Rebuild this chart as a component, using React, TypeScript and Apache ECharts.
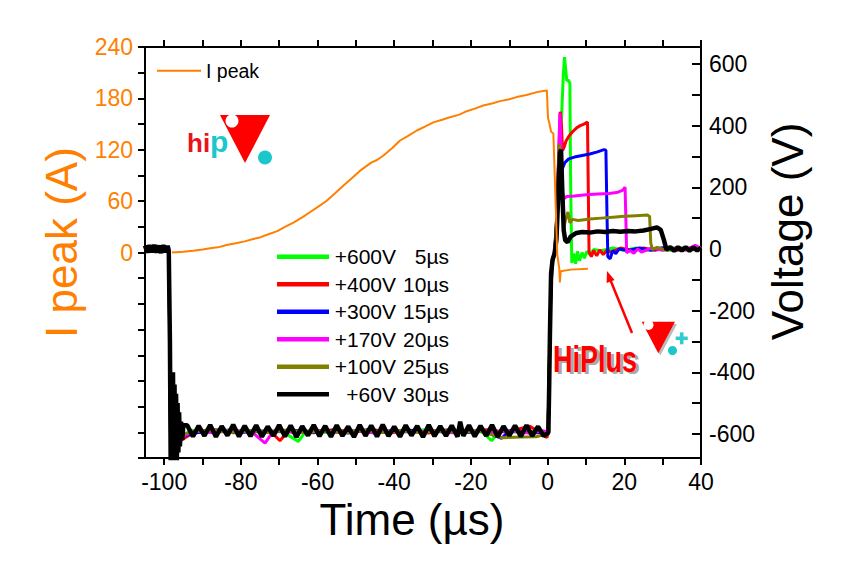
import React, { useEffect, useRef } from "react";
import * as echarts from "echarts";

const FONT = "'Liberation Sans', Arial, sans-serif";
const ORANGE = "#FF8000";

// Axis ticks / labels
const xTicks = [-100, -90, -80, -70, -60, -50, -40, -30, -20, -10, 0, 10, 20, 30, 40];
const xLabels = [-100, -80, -60, -40, -20, 0, 20, 40];
const iTicks = [-240, -210, -180, -150, -120, -90, -60, -30, 0, 30, 60, 90, 120, 150, 180, 210, 240];
const iLabels = [0, 60, 120, 180, 240];
const vTicks = [-600, -500, -400, -300, -200, -100, 0, 100, 200, 300, 400, 500, 600];
const vLabels = [-600, -400, -200, 0, 200, 400, 600];

const names = ["+600V 5µs", "+400V 10µs", "+300V 15µs", "+170V 20µs", "+100V 25µs", "+60V 30µs"];
const colors = ["#00FF00", "#FF0000", "#0000FF", "#FF00FF", "#808000", "#000000"];

// I peak (A) vs time (µs)
const iPeak = [
  [-98, 0], [-95, 1], [-92.4, 2], [-90, 3.5], [-88, 5], [-86, 6], [-83.7, 8.7], [-81, 11], [-79, 13], [-77, 15.5],
  [-75, 17.6], [-73, 21], [-70.5, 25], [-68.5, 30], [-66.3, 35], [-64, 41], [-62, 47], [-60, 53], [-57.6, 60.5],
  [-55.5, 69], [-53.3, 78], [-51, 87], [-48.9, 95.6], [-46, 105], [-44.5, 108], [-42.9, 113], [-40.5, 122],
  [-38.5, 130.8], [-36.5, 136], [-34.1, 142.5], [-32, 147], [-29.8, 152], [-27.5, 155], [-25.5, 158], [-23, 161],
  [-21.1, 165], [-19, 168], [-16.8, 171.7], [-14.5, 174], [-12.4, 176.8], [-10, 179], [-8.1, 181.5], [-5.5, 184],
  [-2.8, 187.3], [-1.2, 188.5], [-0.2, 189.3], [0.1, 157], [0.5, 150], [0.9, 141], [1.5, 139], [2.0, 70],
  [2.5, -1.5], [3.05, -19], [3.2, -35], [3.4, -22], [6, -20], [10.5, -19]
];

// Voltage (V) vs time (µs)
const v600 = [
  [-105, 3], [-103.6, -5], [-102.2, 6], [-100.8, -4], [-99.6, 5], [-98.8, -3],
  [-98.5, -380], [-98.3, -690], [-97.9, -560], [-97.4, -650], [-96.9, -575], [-96.3, -615],
  [-93, -588], [-88, -595], [-83, -586], [-78, -596], [-73, -590], [-69, -594], [-65, -624], [-63, -590],
  [-57, -596], [-52, -586], [-47, -595], [-42, -589], [-37, -594], [-32, -586], [-27, -595], [-22, -590],
  [-17, -594], [-14.6, -622], [-12.5, -590], [-6, -596], [-2, -588], [-0.3, -594],
  [0.1, -590], [0.4, -420], [0.8, -160], [1.2, -45], [1.8, -15], [2.4, 90], [2.9, 290], [3.3, 335],
  [3.7, 450], [4.1, 565], [4.4, 622], [4.7, 585], [5.0, 545], [5.4, 548], [5.8, 538], [6.0, 220], [6.3, -45],
  [6.8, -15], [7.3, -48], [7.8, -8], [8.3, -38], [9.0, -12], [9.6, -30], [10.2, -8], [11, -18], [12, -2],
  [14, -6], [17, 3], [20, -5], [23, 3], [26, -4], [29, 3], [32, -4], [35, 4], [38, -3], [40, 2]
];
const v400 = [
  [-105, -4], [-103.8, 5], [-102.4, -6], [-101, 4], [-99.8, -5], [-98.8, 3],
  [-98.5, -360], [-98.3, -680], [-97.8, -490], [-97.3, -660], [-96.8, -560], [-96.2, -625],
  [-92, -593], [-87, -586], [-82, -596], [-77, -590], [-72, -595], [-69.8, -622], [-67.5, -588], [-61, -596],
  [-56, -586], [-51, -594], [-46, -585], [-41, -596], [-36, -590], [-31, -597], [-26, -586], [-21, -595],
  [-16, -586], [-11, -594], [-4.6, -575], [-1.5, -600], [-0.2, -612],
  [0.1, -600], [0.4, -400], [0.8, -150], [1.2, -40], [1.8, -10], [2.4, 100], [2.9, 300],
  [3.3, 445], [3.6, 400], [3.9, 320], [4.3, 330], [4.8, 350], [5.5, 365], [6.5, 380], [7.5, 392], [8.5, 400],
  [9.5, 405], [10.4, 412], [10.6, 200], [10.8, -10], [11.4, -25], [12.0, -5], [12.8, -22], [13.6, -3],
  [14.5, -18], [15.5, -4], [16.5, -10],
  [19, 3], [22, -4], [25, 3], [28, -4], [31, 3], [34, -4], [37, 3], [40, -2]
];
const v300 = [
  [-105, 5], [-103.4, -4], [-102, 6], [-100.6, -6], [-99.4, 4], [-98.8, -5],
  [-98.5, -370], [-98.3, -700], [-97.8, -520], [-97.2, -640], [-96.6, -570], [-96.0, -610],
  [-91, -595], [-86, -587], [-81, -596], [-76, -590], [-71, -594], [-67, -586], [-62, -596], [-57, -590],
  [-52, -597], [-47, -587], [-42, -595], [-37, -586], [-32, -594], [-27, -588], [-22, -596], [-17, -590],
  [-12, -614], [-10, -590], [-3, -596], [-0.3, -594],
  [0.1, -592], [0.4, -410], [0.8, -160], [1.2, -45], [1.8, -12], [2.4, 95], [2.9, 290], [3.2, 300],
  [3.6, 250], [4.0, 265], [4.5, 280], [5.5, 292], [7, 298], [9, 303], [11, 308], [13, 315], [14.7, 322],
  [15.2, 320], [15.5, 100], [15.7, -25], [16.3, -32], [17.0, -5], [17.8, -15], [18.6, 0],
  [21, -5], [24, 3], [27, -4], [30, 4], [33, -4], [36, 3], [39, -3], [40, 1]
];
const v170 = [
  [-105, -3], [-103.7, 6], [-102.3, -5], [-100.9, 5], [-99.7, -4], [-98.8, 7],
  [-98.5, -340], [-98.3, -670], [-97.7, -520], [-97.1, -650], [-96.5, -565], [-95.9, -612],
  [-92, -590], [-87, -596], [-82, -587], [-77, -595], [-73.7, -630], [-71.5, -590], [-65, -596], [-60, -588],
  [-55, -595], [-50, -590], [-45, -597], [-40, -587], [-35, -595], [-30, -589], [-25, -596], [-20, -588],
  [-15, -595], [-10, -590], [-5, -597], [-1, -590],
  [0.1, -595], [0.4, -410], [0.8, -150], [1.2, -40], [1.8, -15], [2.4, 95], [2.9, 320],
  [3.2, 440], [3.5, 330], [3.9, 180], [4.3, 163], [5, 170], [7, 172], [10, 176], [13, 178], [16, 180],
  [18, 183], [19.5, 190], [20.2, 200], [20.4, 100], [20.6, -12], [21.5, -5], [22.5, -14], [23.5, 0], [24.5, -10],
  [27, 3], [30, -4], [33, 3], [36, -4], [38.5, 12], [40, 2]
];
const v100 = [
  [-105, 4], [-103.5, -6], [-102.1, 5], [-100.7, -4], [-99.5, 6], [-98.8, -4],
  [-98.5, -330], [-98.3, -660], [-97.8, -540], [-97.2, -635], [-96.6, -580], [-96.0, -606],
  [-93, -594], [-88, -586], [-83, -596], [-78, -589], [-73, -595], [-68, -587], [-63, -595], [-58, -590],
  [-53, -597], [-48, -588], [-43, -595], [-38, -589], [-33, -596], [-28, -588], [-23, -595], [-18, -590],
  [-12, -612], [-7, -610], [-3, -609], [-0.3, -600],
  [0.1, -595], [0.4, -400], [0.8, -140], [1.2, -35], [1.8, -10], [2.4, 110], [3.0, 340],
  [3.5, 300], [3.9, 120], [4.3, 75], [4.8, 100], [5.3, 120], [5.8, 85], [6.5, 96], [8, 92], [11, 97],
  [14, 100], [17, 103], [20, 106], [23, 108], [26, 110], [26.6, 105], [26.9, 20], [27.3, -2], [28.5, 5],
  [31, -4], [34, 4], [37, -3], [40, 3]
];
const v60 = [
  [-105, 11], [-104.4, -12], [-103.8, 12], [-103.2, -11], [-102.6, 13], [-102, -12], [-101.4, 11], [-100.8, -13],
  [-100.2, 12], [-99.6, -11], [-99.1, 11], [-98.8, -8],
  [-98.5, -300], [-98.3, -700], [-98.1, -430], [-97.9, -700], [-97.7, -400], [-97.5, -700], [-97.3, -440],
  [-97.1, -700], [-96.9, -470], [-96.7, -690], [-96.5, -500], [-96.3, -660], [-96.1, -530], [-95.9, -640],
  [-95.6, -560], [-95.3, -620], [-95, -572],
  [-94, -572], [-92.5, -608], [-91, -574], [-89.5, -606], [-88, -571], [-86.5, -609], [-85, -575], [-83.5, -605],
  [-82, -570], [-80.5, -608], [-79, -574], [-77.5, -607], [-76, -572], [-74.5, -609], [-73, -576], [-71.5, -606],
  [-70, -571], [-68.5, -608], [-67, -573], [-65.5, -610], [-64, -575], [-62.5, -605], [-61, -571], [-59.5, -607],
  [-58, -574], [-56.5, -609], [-55, -572], [-53.5, -606], [-52, -576], [-50.5, -610], [-49, -571], [-47.5, -606],
  [-46, -573], [-44.5, -608], [-43, -570], [-41.5, -607], [-40, -576], [-38.5, -609], [-37, -572], [-35.5, -605],
  [-34, -574], [-32.5, -610], [-31, -571], [-29.5, -607], [-28, -575], [-26.5, -606], [-25, -573], [-23.5, -609],
  [-22.8, -560], [-22, -606], [-20.5, -572], [-19, -608], [-17.5, -574], [-16, -606], [-14.5, -571], [-13, -609],
  [-11.5, -575], [-10, -605], [-8.5, -573], [-7, -608], [-5.5, -572], [-4, -606], [-2.5, -576], [-1, -607],
  [0.2, -595], [0.4, -450], [0.6, -280], [0.9, -80], [1.3, -35], [1.8, -15], [2.3, 30], [2.8, 180],
  [3.2, 310], [3.5, 322], [3.8, 200], [4.2, 60], [4.6, 28], [5.2, 22], [6, 40], [7.5, 52],
  [9, 55], [11, 53], [13, 57], [15, 55], [17, 58], [19, 56], [21, 58], [23, 57], [25, 60], [27, 65],
  [28.5, 70], [29.5, 62], [30.3, 30], [31, -2], [32, 6],
  [33, -6], [34, 6], [35, -5], [36, 6], [37, -6], [38, 5], [39, -5], [40, 4]
];
const voltageData = [v600, v400, v300, v170, v100, v60];

const axisLineStyle = { color: "#000", width: 2 };

export default function App() {
  const ref = useRef<HTMLDivElement>(null);
  useEffect(() => {
    document.body.style.margin = "0";
    const chart = echarts.init(ref.current!, null, { renderer: "svg" });
    const voltageSeries = names.map((n, i) => ({
      name: n,
      type: "line",
      xAxisIndex: 0,
      yAxisIndex: 1,
      data: voltageData[i],
      symbol: "none",
      showSymbol: false,
      clip: true,
      lineStyle: { color: colors[i], width: i === 5 ? 4.5 : 3 },
      itemStyle: { color: colors[i] },
      z: 2 + i,
    }));
    const option: any = {
      animation: false,
      textStyle: { fontFamily: FONT },
      grid: { left: 145, right: 151, top: 47, bottom: 110, containLabel: false },
      xAxis: [
        {
          type: "value", min: -105, max: 40, position: "bottom",
          axisLine: { show: true, onZero: false, lineStyle: axisLineStyle },
          axisTick: { show: true, length: 7, lineStyle: axisLineStyle, customValues: xTicks },
          axisLabel: { customValues: xLabels, fontSize: 23, color: "#000", margin: 12, fontFamily: FONT },
          splitLine: { show: false },
          name: "Time (µs)", nameLocation: "middle", nameGap: 36,
          nameTextStyle: { fontSize: 44, color: "#000", fontFamily: FONT, padding: [0, 22, 0, 0] },
        },
        {
          type: "value", min: -105, max: 40, position: "top",
          axisLine: { show: true, onZero: false, lineStyle: axisLineStyle },
          axisTick: { show: true, length: 7, lineStyle: axisLineStyle, customValues: xTicks },
          axisLabel: { show: false },
          splitLine: { show: false },
        },
      ],
      yAxis: [
        {
          type: "value", min: -240, max: 240, position: "left",
          axisLine: { show: true, onZero: false, lineStyle: axisLineStyle },
          axisTick: { show: true, length: 7, lineStyle: axisLineStyle, customValues: iTicks },
          axisLabel: { customValues: iLabels, fontSize: 23, color: ORANGE, margin: 12, fontFamily: FONT },
          splitLine: { show: false },
          name: "I peak (A)", nameLocation: "middle", nameGap: 58,
          nameTextStyle: { fontSize: 44, color: ORANGE, fontFamily: FONT, padding: [0, 0, 0, 20] },
        },
        {
          type: "value", min: -678, max: 655, position: "right",
          axisLine: { show: true, onZero: false, lineStyle: axisLineStyle },
          axisTick: { show: true, inside: true, length: 9, lineStyle: axisLineStyle, customValues: vTicks },
          axisLabel: { customValues: vLabels, fontSize: 23, color: "#000", margin: 8, fontFamily: FONT },
          splitLine: { show: false },
          name: "Voltage (V)", nameLocation: "middle", nameGap: 60,
          nameTextStyle: { fontSize: 44, color: "#000", fontFamily: FONT, padding: [0, 0, 0, 42] },
        },
      ],
      legend: [
        {
          data: ["I peak"], left: 157, top: 60.7, padding: 0, itemWidth: 44, itemHeight: 2, icon: "rect",
          selectedMode: false,
          textStyle: { fontSize: 19.5, lineHeight: 20, color: "#000", fontFamily: FONT },
        },
        {
          data: names, orient: "vertical", left: 277, top: 245.7, padding: 0, itemWidth: 52, itemHeight: 4.5,
          itemGap: 5.5, icon: "rect",
          selectedMode: false,
          formatter: (n: string) => {
            const parts = n.split(" ");
            return `{a|${parts[0]}}{b|${parts[1]}}`;
          },
          textStyle: {
            fontSize: 21, lineHeight: 22, color: "#000", fontFamily: FONT,
            rich: {
              a: { width: 62, align: "right", fontSize: 21, fontFamily: FONT, color: "#000", lineHeight: 22 },
              b: { width: 53, align: "right", fontSize: 21, fontFamily: FONT, color: "#000", lineHeight: 22 },
            },
          },
        },
      ],
      graphic: [
        // hipV logo
        { type: "text", x: 187, y: 143, style: { text: "hi", fill: "#E8141E", fontSize: 26, fontWeight: "bold", fontFamily: FONT, textVerticalAlign: "middle" } },
        { type: "text", x: 210, y: 141.5, style: { text: "p", fill: "#1CC7CC", fontSize: 30, fontWeight: "bold", fontFamily: FONT, textVerticalAlign: "middle" } },
        { type: "polygon", shape: { points: [[220, 115], [270, 115], [245, 163]] }, style: { fill: "#FF0000" } },
        { type: "circle", shape: { cx: 232, cy: 121, r: 6.5 }, style: { fill: "#FFFFFF" } },
        { type: "circle", shape: { cx: 265, cy: 157.5, r: 7 }, style: { fill: "#1CC7CC" } },
        // HiPlus logo
        { type: "text", x: 556, y: 362, scaleX: 0.75, style: { text: "HiPlus", fill: "#AAAAAA", fontSize: 36, fontWeight: "bold", fontFamily: FONT, textVerticalAlign: "middle" } },
        { type: "text", x: 553, y: 359.4, scaleX: 0.75, style: { text: "HiPlus", fill: "#FF0000", fontSize: 36, fontWeight: "bold", fontFamily: FONT, textVerticalAlign: "middle" } },
        { type: "polygon", shape: { points: [[643.5, 324], [677, 324], [660.3, 355.5]] }, style: { fill: "#BBBBBB" } },
        { type: "polygon", shape: { points: [[641.7, 321.7], [675, 321.7], [658.3, 353.3]] }, style: { fill: "#FF0000" } },
        { type: "circle", shape: { cx: 648.5, cy: 325, r: 5 }, style: { fill: "#FFFFFF" } },
        { type: "circle", shape: { cx: 672.5, cy: 350.5, r: 4.5 }, style: { fill: "#1CC7CC" } },
        { type: "rect", shape: { x: 675.7, y: 336.5, width: 12, height: 3.6 }, style: { fill: "#33CCCC" } },
        { type: "rect", shape: { x: 679.9, y: 332.3, width: 3.6, height: 12 }, style: { fill: "#33CCCC" } },
        { type: "line", shape: { x1: 632, y1: 333, x2: 610, y2: 279 }, style: { stroke: "#FF0000", lineWidth: 2.5 } },
        { type: "polygon", shape: { points: [[607, 271], [614.6, 280], [606.6, 283]] }, style: { fill: "#FF0000" } },
      ],
      series: [
        ...voltageSeries,
        {
          name: "I peak",
          type: "line",
          xAxisIndex: 0,
          yAxisIndex: 0,
          data: iPeak,
          symbol: "none",
          showSymbol: false,
          clip: true,
          lineStyle: { color: ORANGE, width: 2 },
          itemStyle: { color: ORANGE },
          z: 10,
        },
      ],
    };
    chart.setOption(option);
    return () => chart.dispose();
  }, []);
  return <div ref={ref} style={{ width: 852, height: 568 }} />;
}
